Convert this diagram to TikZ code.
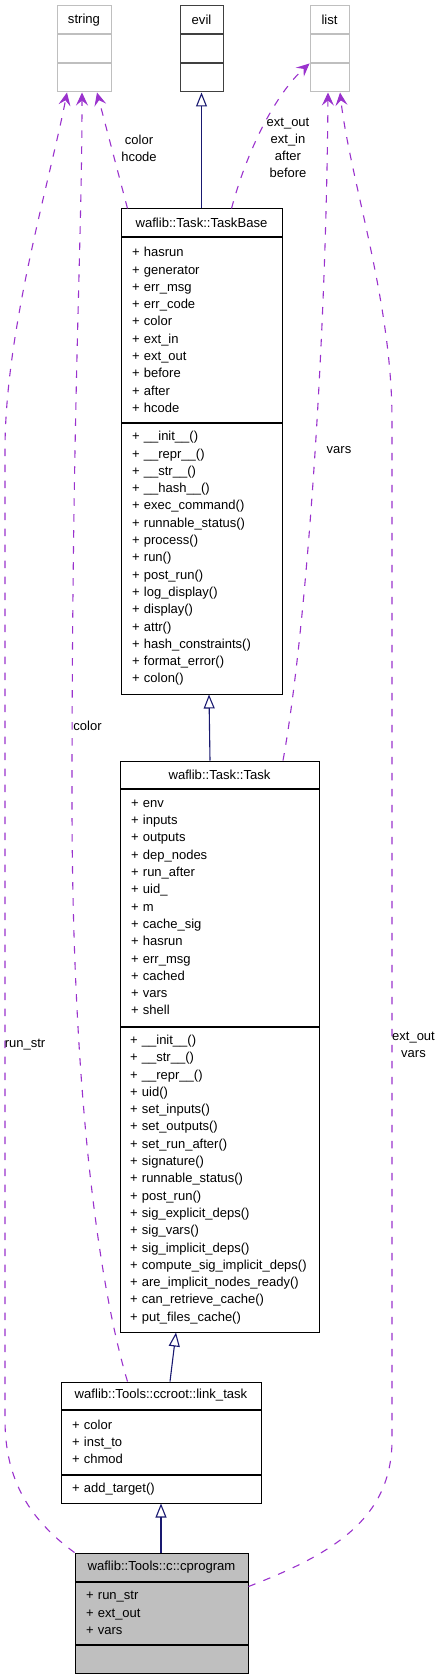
\documentclass[tikz,border=0pt]{standalone}
\usepackage{fontspec}
\setmainfont{Liberation Sans}
\usetikzlibrary{arrows.meta,positioning,calc}
\hyphenpenalty=10000
\exhyphenpenalty=10000
\definecolor{edgeuse}{HTML}{9A32CD}
\definecolor{edgeinh}{HTML}{191970}
\definecolor{greybox}{HTML}{BFBFBF}
\tikzstyle{clshead}=[draw=black,line width=1pt,inner sep=0pt,minimum height=28pt,font=\fontsize{13.1}{16}\selectfont]
\tikzstyle{clsbody}=[draw=black,line width=1pt,inner xsep=11pt,inner ysep=0pt,align=left,font=\fontsize{13}{17.3}\selectfont]
\tikzstyle{exthead}=[clshead,draw=greybox]
\tikzstyle{extbody}=[draw=greybox,line width=1pt,inner sep=0pt,minimum height=28pt]
\tikzstyle{uses}=[draw=edgeuse,line width=1.1pt,dash pattern=on 7.5pt off 8.5pt,-{Stealth[length=13pt,width=12pt,inset=5pt]}]
\tikzstyle{inherits}=[draw=edgeinh,line width=1.1pt,-{Triangle[open,length=14pt,width=11pt,fill=white]}]
\tikzstyle{lbl}=[font=\fontsize{13}{17}\selectfont,align=center,inner sep=0pt]

\begin{document}
\begin{tikzpicture}[x=1pt,y=-1pt]
\useasboundingbox (0,0) rectangle (441,1677);

% external classes
\node[exthead,minimum width=54pt] (strHead) at (84,20) {string};
\node[extbody,minimum width=54pt,below=0pt of strHead] (strAttr) {};
\node[extbody,minimum width=54pt,below=0pt of strAttr] (strOps) {};

\node[clshead,draw=black!75,minimum width=43pt] (evilHead) at (201.5,20) {evil};
\node[extbody,draw=black!75,minimum width=43pt,below=0pt of evilHead] (evilAttr) {};
\node[extbody,draw=black!75,minimum width=43pt,below=0pt of evilAttr] (evilOps) {};

\node[exthead,minimum width=39pt] (listHead) at (329.5,20) {list};
\node[extbody,minimum width=39pt,below=0pt of listHead] (listAttr) {};
\node[extbody,minimum width=39pt,below=0pt of listAttr] (listOps) {};

% TaskBase
\node[clshead,minimum width=161pt] (tbHead) at (201.5,223) {waflib::Task::TaskBase};
\node[clsbody,text width=139pt,minimum height=184pt,below=0pt of tbHead] (tbAttr)
  {+ hasrun\\+ generator\\+ err\_msg\\+ err\_code\\+ color\\+ ext\_in\\+ ext\_out\\+ before\\+ after\\+ hcode};
\node[clsbody,text width=139pt,minimum height=271pt,below=0pt of tbAttr] (tbOps)
  {+ \_\_init\_\_()\\+ \_\_repr\_\_()\\+ \_\_str\_\_()\\+ \_\_hash\_\_()\\+ exec\_command()\\+ runnable\_status()\\+ process()\\+ run()\\+ post\_run()\\+ log\_display()\\+ display()\\+ attr()\\+ hash\_constraints()\\+ format\_error()\\+ colon()};

% Task
\node[clshead,minimum width=199pt,minimum height=27pt] (taskHead) at (219.5,774.5) {waflib::Task::Task};
\node[clsbody,text width=177pt,minimum height=237pt,below=0pt of taskHead] (taskAttr)
  {+ env\\+ inputs\\+ outputs\\+ dep\_nodes\\+ run\_after\\+ uid\_\\+ m\\+ cache\_sig\\+ hasrun\\+ err\_msg\\+ cached\\+ vars\\+ shell};
\node[clsbody,text width=179pt,inner xsep=10pt,minimum height=305pt,below=0pt of taskAttr] (taskOps)
  {+ \_\_init\_\_()\\+ \_\_str\_\_()\\+ \_\_repr\_\_()\\+ uid()\\+ set\_inputs()\\+ set\_outputs()\\+ set\_run\_after()\\+ signature()\\+ runnable\_status()\\+ post\_run()\\+ sig\_explicit\_deps()\\+ sig\_vars()\\+ sig\_implicit\_deps()\\+~compute\_sig\_implicit\_deps()\\+ are\_implicit\_nodes\_ready()\\+ can\_retrieve\_cache()\\+ put\_files\_cache()};

% link_task
\node[clshead,minimum width=200pt,minimum height=27pt] (linkHead) at (161,1395.5) {waflib::Tools::ccroot::link\_task};
\node[clsbody,text width=178pt,minimum height=64pt,below=0pt of linkHead] (linkAttr)
  {+ color\\+ inst\_to\\+ chmod};
\node[clsbody,text width=178pt,minimum height=28pt,below=0pt of linkAttr] (linkOps)
  {+ add\_target()};

% cprogram
\node[clshead,fill=greybox,minimum width=173pt] (cprogHead) at (161.5,1567) {waflib::Tools::c::cprogram};
\node[clsbody,fill=greybox,text width=151pt,minimum height=62pt,below=0pt of cprogHead] (cprogAttr)
  {+ run\_str\\+ ext\_out\\+ vars};
\node[clsbody,fill=greybox,text width=151pt,minimum height=28pt,below=0pt of cprogAttr] (cprogOps) {};

% inheritance
\draw[inherits] (tbHead.north) -- (evilOps.south);
\draw[inherits] ($(taskHead.north)+(-9.5,0)$) -- ($(tbOps.south)+(7.5,0)$);
\draw[inherits] ($(linkHead.north)+(9,0)$) -- ($(taskOps.south)+(-43.5,0)$);
\draw[inherits] ($(cprogHead.north)+(-0.5,0)$) -- (linkOps.south);

% usage
\draw[uses] ($(tbHead.north west)+(7,0)$) -- ($(strOps.south)+(13,0)$);
\draw[uses] ($(tbHead.north west)+(111,0)$) .. controls (250,140) and (280,90) .. (listOps.north west);
\draw[uses] ($(taskHead.north)+(63.5,0)$) .. controls (305,640) and (326,360) .. ($(listOps.south)+(-1.5,0)$);
\draw[uses] ($(linkHead.north west)+(67,0)$) .. controls (100,1290) and (72,1100) .. (72,800)
  .. controls (72,400) and (82,250) .. ($(strOps.south)+(-2,0)$);
\draw[uses] (cprogHead.north west) .. controls (30,1520) and (5,1480) .. (5,1420) -- (5,450)
  .. controls (5,330) and (50,180) .. ($(strOps.south)+(-17,0)$);
\draw[uses] ($(cprogAttr.north east)+(0,5)$) .. controls (330,1555) and (392,1520) .. (392,1440) -- (392,420)
  .. controls (392,300) and (350,180) .. ($(listOps.south)+(10.5,0)$);

% labels
\node[lbl] (lblHcode) at (139,148) {color\\hcode};
\node[lbl] (lblExt) at (288,148) {ext\_out\\ext\_in\\after\\before};
\node[lbl] (lblVars) at (339,450) {vars};
\node[lbl] (lblColor) at (87.5,726) {color};
\node[lbl] (lblRunstr) at (25,1045) {run\_str};
\node[lbl] (lblExtvars) at (413.5,1045) {ext\_out\\vars};
\end{tikzpicture}
\end{document}
